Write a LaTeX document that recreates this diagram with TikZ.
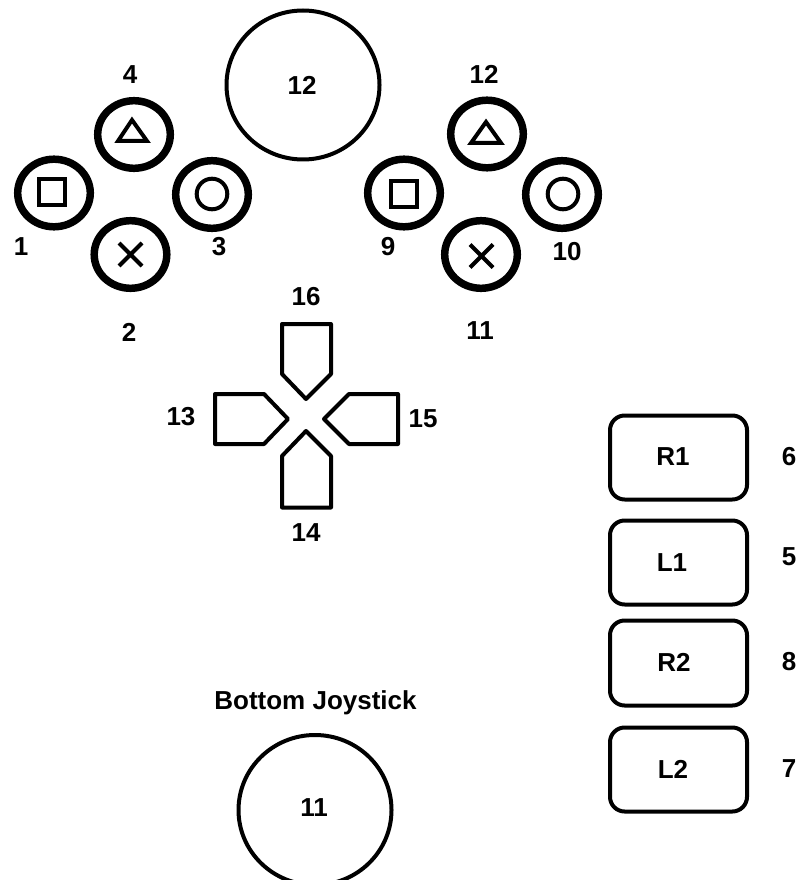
\documentclass[tikz,border=0pt]{standalone}
\usepackage{fontspec}
\setmainfont{Liberation Sans}
\tikzset{
  x=0.75pt,y=-0.75pt,
  ringbtn/.style={draw=black,line width=5.6pt},
  sym/.style={draw=black,line width=3pt},
  stick/.style={draw=black,line width=3pt},
  pad/.style={draw=black,line width=3pt,line join=round},
  shoulder/.style={draw=black,line width=3pt,rounded corners=11pt},
  lbl/.style={font=\bfseries\fontsize{19.5pt}{21pt}\selectfont,text=black,inner sep=0pt,anchor=center}
}
\begin{document}
\begin{tikzpicture}
\useasboundingbox (0,0) rectangle (798,880);
\fill[white] (0,0) rectangle (798,880);
% left cluster
\draw[ringbtn] (134,134.5) ellipse (36.3 and 33.8);
\draw[ringbtn] (54,193) ellipse (36.3 and 33.8);
\draw[ringbtn] (212,194.5) ellipse (36.3 and 33.8);
\draw[ringbtn] (130.5,254.5) ellipse (36.3 and 33.8);
\draw[sym] (132,120) -- (118,141) -- (147,141) -- cycle;
\draw[sym] (39,179) rectangle (65,205);
\draw[sym] (212,194) circle (15.3);
\draw[sym] (119,243) -- (142,266) (142,243) -- (119,266);
% right cluster
\draw[ringbtn] (487,134) ellipse (36.3 and 33.8);
\draw[ringbtn] (404,193) ellipse (36.3 and 33.8);
\draw[ringbtn] (562,194.5) ellipse (36.3 and 33.8);
\draw[ringbtn] (481,254.5) ellipse (36.3 and 33.8);
\draw[sym] (486,122) -- (471,143) -- (501,143) -- cycle;
\draw[sym] (391,181) rectangle (417,207);
\draw[sym] (563,194) circle (15.3);
\draw[sym] (470,244.5) -- (493,267.5) (493,244.5) -- (470,267.5);
% sticks
\draw[stick] (303,85) ellipse (76.5 and 74.5);
\draw[stick] (315,810) ellipse (76.5 and 75);
% pad
\draw[pad] (282,324) -- (331,324) -- (331,374) -- (306,399) -- (282,374) -- cycle;
\draw[pad] (282,507.5) -- (331,507.5) -- (331,456) -- (306,431) -- (282,456) -- cycle;
\draw[pad] (215,394) -- (264,394) -- (288,419) -- (264,444) -- (215,444) -- cycle;
\draw[pad] (398,394) -- (349,394) -- (324,419) -- (349,444) -- (398,444) -- cycle;
% shoulder
\draw[shoulder] (610,415.5) rectangle (747,499.5);
\draw[shoulder] (610,520.5) rectangle (747,604.5);
\draw[shoulder] (610,620.5) rectangle (747,705.5);
\draw[shoulder] (610,727.5) rectangle (747,811.5);
% labels
\node[lbl] (n4) at (130,75) {4};
\node[lbl] (n1) at (21,247) {1};
\node[lbl] (n3) at (219,247) {3};
\node[lbl] (n2) at (129,332) {2};
\node[lbl] (n12a) at (302,85) {12};
\node[lbl] (n12b) at (484,74) {12};
\node[lbl] (n9) at (388,247) {9};
\node[lbl] (n10) at (567,252) {10};
\node[lbl] (n11a) at (480,331) {11};
\node[lbl] (n16) at (306,297) {16};
\node[lbl] (n13) at (181,417) {13};
\node[lbl] (n15) at (423,419) {15};
\node[lbl] (n14) at (306,533) {14};
\node[lbl] (r1) at (673,457) {R1};
\node[lbl] (l1) at (672,563) {L1};
\node[lbl] (r2) at (674,662) {R2};
\node[lbl] (l2) at (673,769) {L2};
\node[lbl] (n6) at (789,457) {6};
\node[lbl] (n5) at (789,557) {5};
\node[lbl] (n8) at (789,662) {8};
\node[lbl] (n7) at (789,769) {7};
\node[lbl] (bj) at (315.5,703) {Bottom Joystick};
\node[lbl] (n11b) at (314,808) {11};
\end{tikzpicture}
\end{document}
